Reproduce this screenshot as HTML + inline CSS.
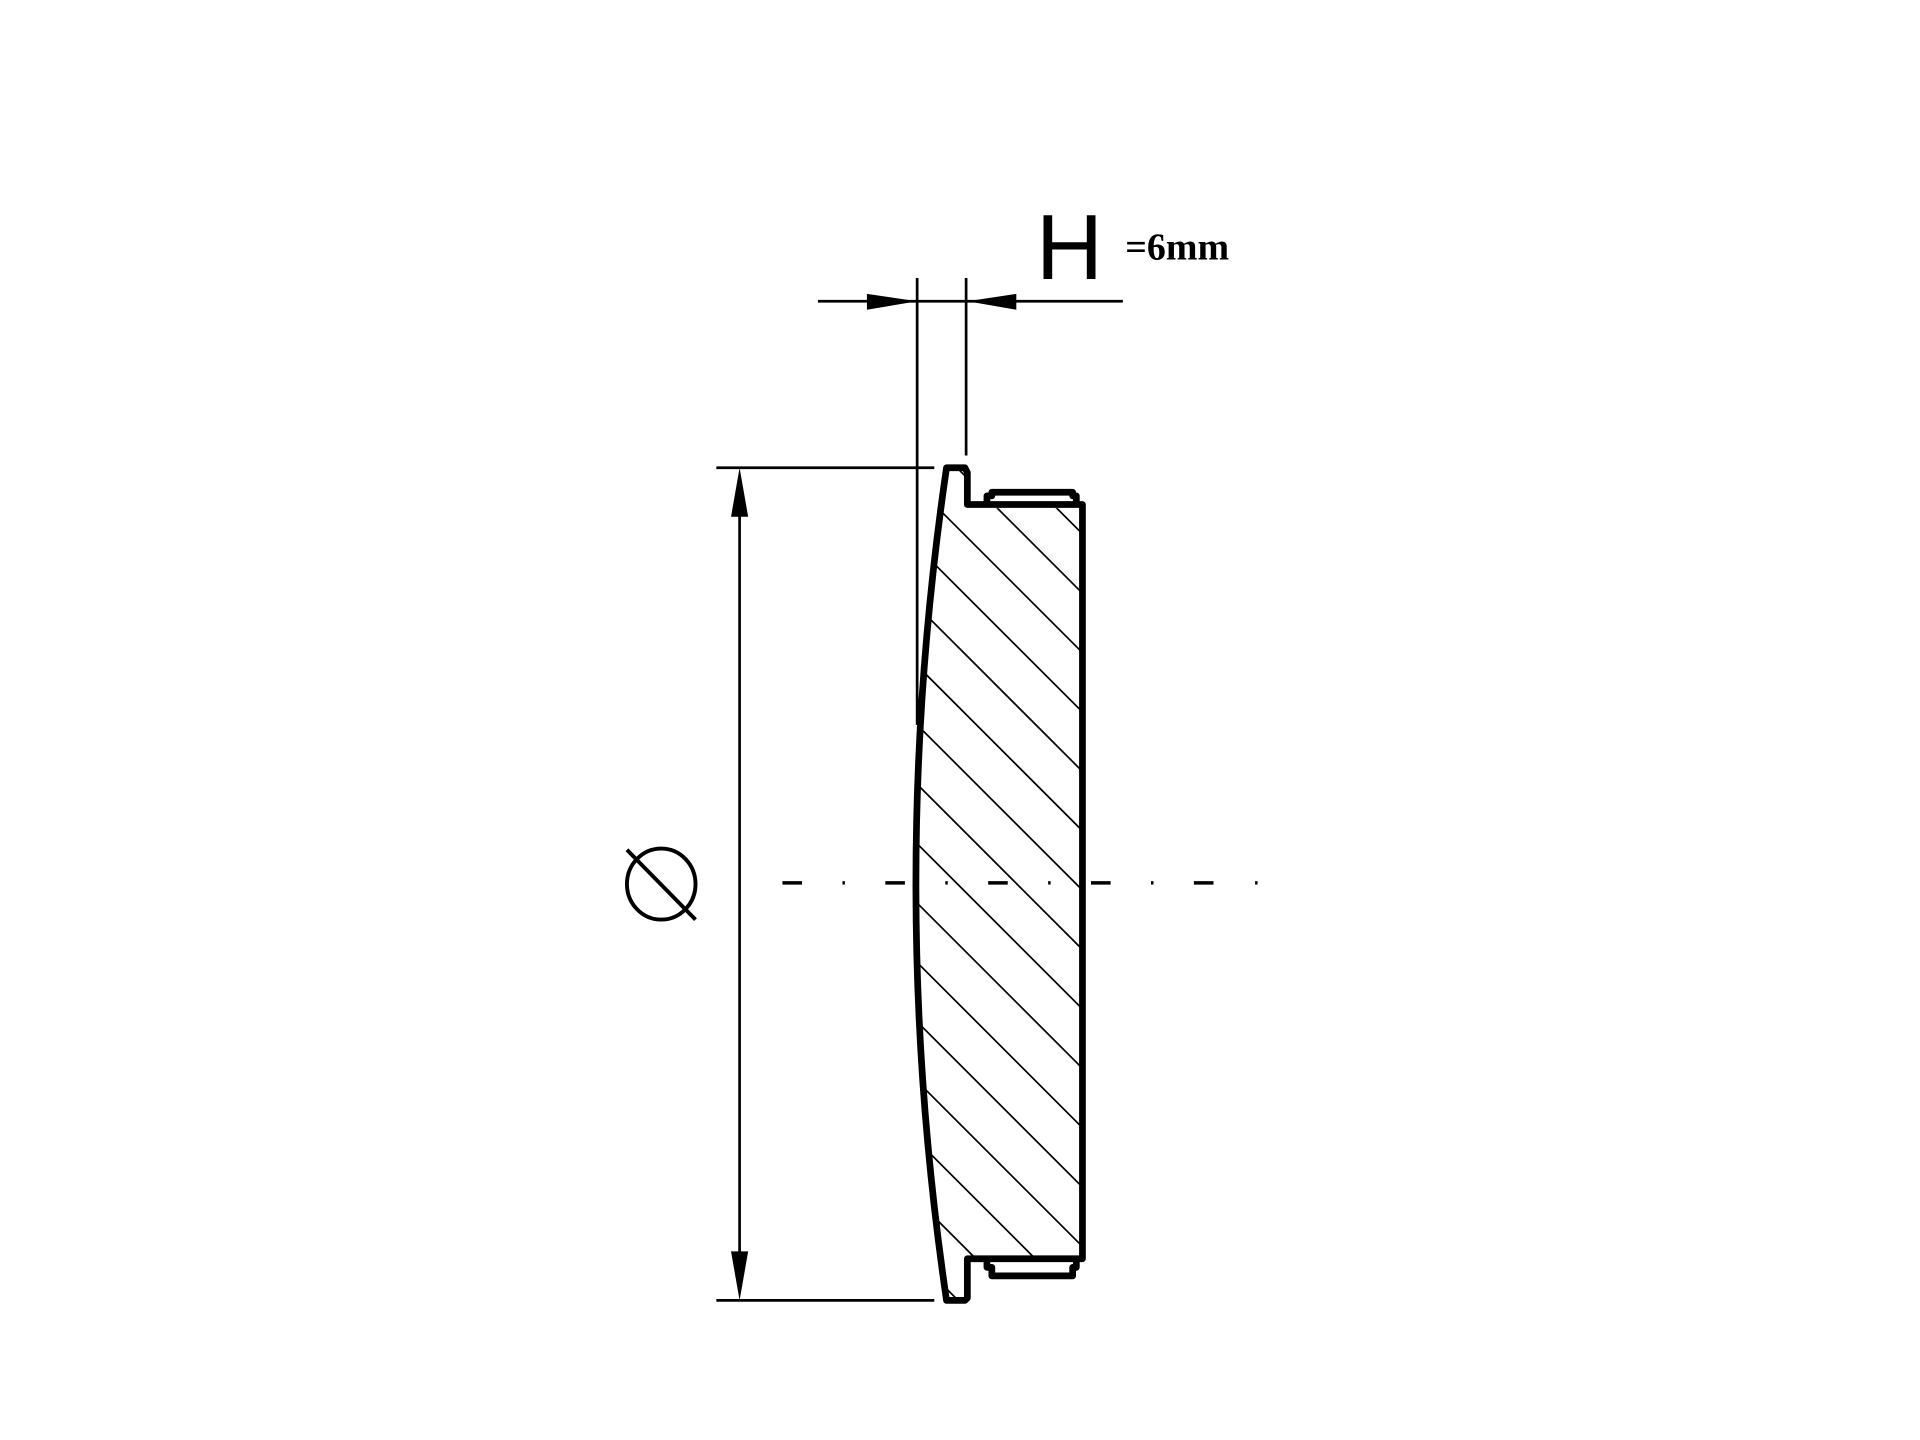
<!DOCTYPE html>
<html><head><meta charset="utf-8"><style>html,body{margin:0;padding:0;background:#fff;width:1920px;height:1440px;overflow:hidden}svg{display:block;position:absolute;top:0;left:0}</style></head>
<body>
<svg width="1920" height="1440" viewBox="0 0 1568 1176" xmlns="http://www.w3.org/2000/svg">
<defs>
<clipPath id="c"><path d="M773,383 Q723,722 773,1060 L790,1060 L790,1026 L882,1026 L882,415 L790,415 L790,383 Z"/></clipPath>
</defs>
<g stroke="#000" stroke-width="2.2" fill="none">
<line x1="668" y1="246" x2="917" y2="246"/>
<line x1="749" y1="227" x2="749" y2="592"/>
<line x1="789" y1="227" x2="789" y2="372"/>
<line x1="585" y1="382" x2="763" y2="382"/>
<line x1="585" y1="1062" x2="763" y2="1062"/>
<line x1="604" y1="400" x2="604" y2="1044"/>
<ellipse cx="540" cy="722" rx="28" ry="29" stroke-width="3.2"/>
<line x1="512" y1="694" x2="568" y2="751" stroke-width="3.2"/>
</g>
<g fill="#000">
<polygon points="749,246 708,240 708,253"/>
<polygon points="790,246 830,240 830,253"/>
<polygon points="604,382 597,422 611,422"/>
<polygon points="604,1062 597,1022 611,1022"/>
</g>
<g stroke="#000" stroke-width="2.8">
<line x1="639" y1="721" x2="655" y2="721"/><line x1="688" y1="721" x2="690" y2="721"/>
<line x1="723" y1="721" x2="739" y2="721"/><line x1="772" y1="721" x2="774" y2="721"/>
<line x1="807" y1="721" x2="823" y2="721"/><line x1="856" y1="721" x2="858" y2="721"/>
<line x1="891" y1="721" x2="907" y2="721"/><line x1="940" y1="721" x2="942" y2="721"/>
<line x1="975" y1="721" x2="991" y2="721"/><line x1="1025" y1="721" x2="1027" y2="721"/>
</g>
<g clip-path="url(#c)" stroke="#000" stroke-width="1.4">
<line x1="600" y1="152" x2="1100" y2="652"/>
<line x1="600" y1="200.5" x2="1100" y2="700.5"/>
<line x1="600" y1="249" x2="1100" y2="749"/>
<line x1="600" y1="297.5" x2="1100" y2="797.5"/>
<line x1="600" y1="346" x2="1100" y2="846"/>
<line x1="600" y1="394.5" x2="1100" y2="894.5"/>
<line x1="600" y1="443" x2="1100" y2="943"/>
<line x1="600" y1="491.5" x2="1100" y2="991.5"/>
<line x1="600" y1="540" x2="1100" y2="1040"/>
<line x1="600" y1="588.5" x2="1100" y2="1088.5"/>
<line x1="600" y1="637" x2="1100" y2="1137"/>
<line x1="600" y1="685.5" x2="1100" y2="1185.5"/>
<line x1="600" y1="734" x2="1100" y2="1234"/>
<line x1="600" y1="782.5" x2="1100" y2="1282.5"/>
<line x1="600" y1="831" x2="1100" y2="1331"/>
<line x1="600" y1="879.5" x2="1100" y2="1379.5"/>
<line x1="600" y1="928" x2="1100" y2="1428"/>
</g>
<g stroke="#000" stroke-width="5.5" fill="none" stroke-linejoin="round">
<path d="M773,382 L788,382 L790,386 L790,412 L884,412 L884,1028 L790,1028 L790,1060 L788,1062 L773,1062 Q723,722 773,382 Z"/>
<path d="M806,412 L806,405 L810,405 L810,402 L876,402 L876,405 L879,405 L879,412"/>
<path d="M806,1028 L806,1035 L810,1035 L810,1042 L876,1042 L876,1035 L879,1035 L879,1028"/>
</g>
<text x="846" y="228" font-family="Liberation Sans, sans-serif" font-size="76" fill="#000">H</text>
<text x="919" y="212" font-family="Liberation Serif, serif" font-weight="bold" font-size="31" fill="#000">=6mm</text>
</svg>
</body></html>
